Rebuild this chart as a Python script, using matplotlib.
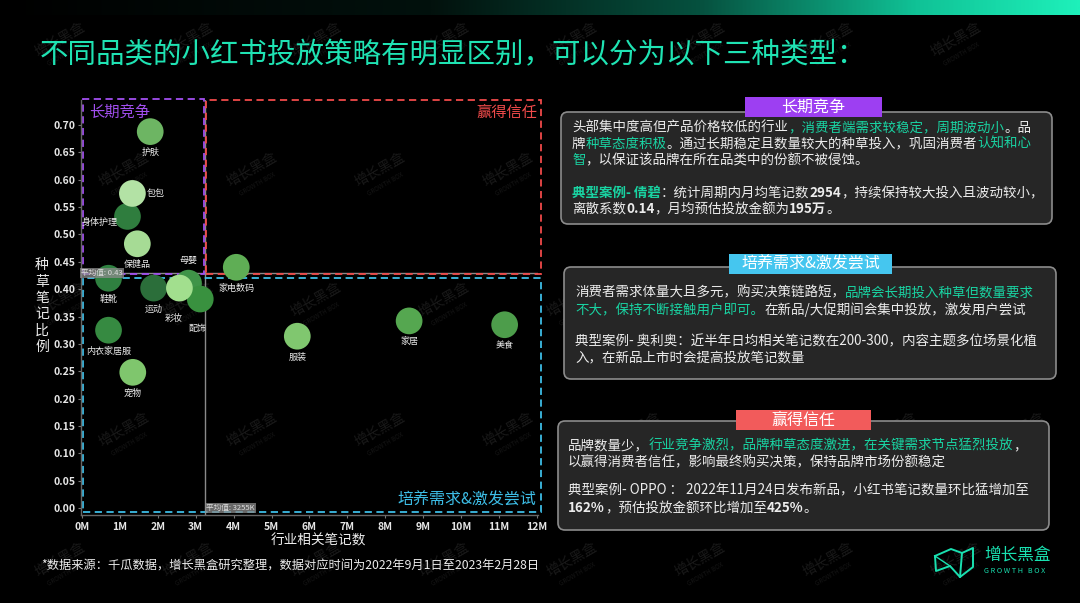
import numpy as np
import matplotlib
matplotlib.use("Agg")
import matplotlib.pyplot as plt
import matplotlib.patches as mpatches
from matplotlib.colors import LinearSegmentedColormap

plt.rcParams['font.family'] = ['Noto Sans CJK SC', 'DejaVu Sans']

# ------------------------------------
# 1. Data
# ------------------------------------
categories = ['护肤', '身体护理', '包包', '保健品', '鞋靴', '运动', '母婴', '配饰', '彩妆',
              '家电数码', '内衣家居服', '宠物', '服装', '家居', '美食']
notes_m = [1.80, 1.20, 1.33, 1.46, 0.70, 1.89, 2.81, 3.12, 2.57,
           4.07, 0.70, 1.34, 5.68, 8.63, 11.15]
grass_ratio = [0.688, 0.533, 0.575, 0.483, 0.420, 0.402, 0.411, 0.382, 0.402,
               0.440, 0.325, 0.248, 0.314, 0.342, 0.335]
bubble_colors = ['#6db563', '#2f7d3e', '#b3e2a5', '#a6db95', '#2f8040', '#2b6e3a', '#3f9448',
                 '#39913f', '#a2df8e', '#5fae55', '#368a41', '#7fc66d', '#80c76f', '#55a750',
                 '#4d9d4b']
mean_notes_m = 3.255
mean_ratio = 0.43

x_ticks = list(range(0, 13))
x_tick_labels = [f"{v}M" for v in x_ticks]
y_ticks = [round(0.05 * i, 2) for i in range(15)]

# label offsets (points) relative to bubble centre
label_offsets = {
    '护肤': (0, -15), '包包': (17, 0), '身体护理': (-20, -4), '保健品': (0, -15),
    '母婴': (0, 16), '鞋靴': (0, -15), '运动': (0, -15), '彩妆': (-4, -22),
    '配饰': (-2, -21), '家电数码': (0, -15), '内衣家居服': (0, -15), '宠物': (0, -15),
    '服装': (0, -15), '家居': (0, -15), '美食': (0, -15),
}

WHITE = '#ececec'
TEAL = '#19d3a2'
PURPLE = '#a24ff0'
RED = '#f04a4a'
CYAN = '#3dbde6'

# ------------------------------------
# 2. Figure and background layer (pixel coords)
# ------------------------------------
fig = plt.figure(figsize=(10.8, 6.03), dpi=100, facecolor='black')
bg = fig.add_axes([0, 0, 1, 1], zorder=0)
bg.set_xlim(0, 1080)
bg.set_ylim(603, 0)
bg.axis('off')
bg.set_facecolor('black')

# top gradient bar
cmap = LinearSegmentedColormap.from_list(
    'bar', [(0, '#000000'), (0.4, '#02110d'), (0.65, '#06513f'), (0.85, '#10c296'), (1, '#1ef0ba')])
grad = np.linspace(0, 1, 512).reshape(1, -1)
bg.imshow(grad, cmap=cmap, extent=[0, 1080, 15, 0], aspect='auto', zorder=1)

# faint watermarks (kept inside the frame)
for row, wy in enumerate(range(40, 590, 130)):
    for wx in range(30 + (row % 2) * 64, 1010, 128):
        bg.text(wx + 30, wy, '增长黑盒', rotation=30, color='#191919', fontsize=10,
                ha='center', va='center', zorder=0.5)
        bg.text(wx + 36, wy + 14, 'GROWTH BOX', rotation=30, color='#151515', fontsize=4.5,
                ha='center', va='center', zorder=0.5)

# title
bg.text(40, 55, '不同品类的小红书投放策略有明显区别，可以分为以下三种类型：',
        color='#1fe3b3', fontsize=20.5, ha='left', va='center', zorder=3)

# ------------------------------------
# 3. Scatter chart
# ------------------------------------
ax = fig.add_axes([80.7 / 1080, 1 - 515 / 603, (538 - 80.7) / 1080, (515 - 100) / 603], zorder=1)
ax.set_facecolor('none')
ax.set_xlim(-0.034, 12.03)
ax.set_ylim(-0.0128, 0.7458)

ax.axhline(mean_ratio, color='#8a8a8a', lw=1, zorder=1)
ax.axvline(mean_notes_m, color='#8a8a8a', lw=1, zorder=1)

ax.scatter(notes_m, grass_ratio, s=370, c=bubble_colors, edgecolors='none', zorder=3)
for name, xv, yv in zip(categories, notes_m, grass_ratio):
    dx, dy = label_offsets[name]
    ax.annotate(name, (xv, yv), xytext=(dx, dy), textcoords='offset points',
                ha='center', va='center', color=WHITE, fontsize=6.5, zorder=4)

ax.text(-0.03, mean_ratio, f'平均值: {mean_ratio:.2f}', fontsize=5.5, color='#dddddd',
        ha='left', va='center', zorder=5,
        bbox=dict(boxstyle='square,pad=0.15', fc='#8c8c8c', ec='none', alpha=0.75))
ax.text(mean_notes_m + 0.02, 0.0, f'平均值: {mean_notes_m * 1000:.0f}K', fontsize=5.5,
        color='#dddddd', ha='left', va='center', zorder=5,
        bbox=dict(boxstyle='square,pad=0.15', fc='#8c8c8c', ec='none', alpha=0.75))

# quadrant boxes
quads = [
    ((0.02, 0.428), 3.20, 0.320, PURPLE),
    ((3.27, 0.427), 8.84, 0.319, RED),
    ((0.02, -0.008), 12.09, 0.428, CYAN),
]
for (x0, y0), w, h, col in quads:
    ax.add_patch(mpatches.Rectangle((x0, y0), w, h, fill=False, ec=col, lw=1.3,
                                    ls=(0, (4, 2.5)), clip_on=False, zorder=2))

ax.set_xticks(x_ticks)
ax.set_xticklabels(x_tick_labels)
ax.set_yticks(y_ticks)
ax.set_yticklabels([f"{v:.2f}" for v in y_ticks])
ax.tick_params(colors='#777777', labelcolor='#e6e6e6', labelsize=7.5, length=2.5, width=0.8)
ax.tick_params(axis='y', pad=1.5)
ax.tick_params(axis='x', pad=2.5)
for lbl in ax.get_xticklabels() + ax.get_yticklabels():
    lbl.set_fontweight('bold')
for side in ['top', 'right']:
    ax.spines[side].set_visible(False)
for side in ['left', 'bottom']:
    ax.spines[side].set_color('#666666')
    ax.spines[side].set_linewidth(1)

bg.text(89, 112, '长期竞争', color=PURPLE, fontsize=11, ha='left', va='center', zorder=3)
bg.text(537, 112, '赢得信任', color=RED, fontsize=11, ha='right', va='center', zorder=3)
bg.text(536, 500, '培养需求&激发尝试', color=CYAN, fontsize=11.5, ha='right', va='center', zorder=3)

bg.text(42, 306, '种\n草\n笔\n记\n比\n例', color=WHITE, fontsize=10, linespacing=1.2,
        ha='center', va='center', zorder=3)
bg.text(318, 540, '行业相关笔记数', color=WHITE, fontsize=9.8, ha='center', va='center', zorder=3)

# ------------------------------------
# 4. Strategy boxes on the right
# ------------------------------------
def rich_line(x, y, segments, size=9.7):
    prev = None
    for text, color, weight in segments:
        if prev is None:
            prev = bg.text(x, y, text, color=color, fontsize=size, fontweight=weight,
                           ha='left', va='center', zorder=4)
        else:
            prev = bg.annotate(text, xy=(1, 0.5), xycoords=prev, color=color, fontsize=size,
                               fontweight=weight, ha='left', va='center', zorder=4)


def strategy_box(x0, y0, x1, y1, tab, tab_color, tab_text):
    bg.add_patch(mpatches.FancyBboxPatch((x0, y0), x1 - x0, y1 - y0,
                                         boxstyle='round,pad=0,rounding_size=7',
                                         fc='#262626', ec='#8c8c8c', lw=1.2, zorder=2))
    tx0, ty0, tx1, ty1 = tab
    bg.add_patch(mpatches.Rectangle((tx0, ty0), tx1 - tx0, ty1 - ty0, fc=tab_color,
                                    ec='none', zorder=3))
    bg.text((tx0 + tx1) / 2, (ty0 + ty1) / 2, tab_text, color='white', fontsize=11.5,
            ha='center', va='center', zorder=4)


N = 'normal'
B = 'bold'

strategy_box(561, 112, 1052, 224, (745, 97, 882, 117), '#9d3ff2', '长期竞争')
box1_lines = [
    (128, [('头部集中度高但产品价格较低的行业', WHITE, N), ('，消费者端需求较稳定，周期波动小', TEAL, N),
           ('。品', WHITE, N)]),
    (144, [('牌', WHITE, N), ('种草态度积极', TEAL, N), ('。通过长期稳定且数量较大的种草投入，巩固消费者', WHITE, N),
           ('认知和心', TEAL, N)]),
    (160, [('智', TEAL, N), ('，以保证该品牌在所在品类中的份额不被侵蚀。', WHITE, N)]),
    (193, [('典型案例- 倩碧', TEAL, B), ('：统计周期内月均笔记数', WHITE, N), ('2954', WHITE, B),
           ('，持续保持较大投入且波动较小，', WHITE, N)]),
    (209, [('离散系数', WHITE, N), ('0.14', WHITE, B), ('，月均预估投放金额为', WHITE, N),
           ('195万', WHITE, B), ('。', WHITE, N)]),
]
for yy, segs in box1_lines:
    rich_line(572, yy, segs)

strategy_box(564, 267, 1056, 379, (729, 254, 892, 274), '#45c6ef', '培养需求&激发尝试')
box2_lines = [
    (292.5, [('消费者需求体量大且多元，购买决策链路短，', WHITE, N), ('品牌会长期投入种草但数量要求', TEAL, N)]),
    (310, [('不大，保持不断接触用户即可。', TEAL, N), ('在新品/大促期间会集中投放，激发用户尝试', WHITE, N)]),
    (341, [('典型案例- 奥利奥：近半年日均相关笔记数在200-300，内容主题多位场景化植', WHITE, N)]),
    (358, [('入，在新品上市时会提高投放笔记数量', WHITE, N)]),
]
for yy, segs in box2_lines:
    rich_line(575, yy, segs)

strategy_box(558, 421, 1049, 530, (736, 410, 871, 430), '#f25b5b', '赢得信任')
box3_lines = [
    (445, [('品牌数量少，', WHITE, N), ('行业竞争激烈，品牌种草态度激进，在关键需求节点猛烈投放', TEAL, N),
           ('，', WHITE, N)]),
    (462, [('以赢得消费者信任，影响最终购买决策，保持品牌市场份额稳定', WHITE, N)]),
    (490, [('典型案例- OPPO ： 2022年11月24日发布新品，小红书笔记数量环比猛增加至', WHITE, N)]),
    (508, [('162%', WHITE, B), ('，预估投放金额环比增加至', WHITE, N), ('425%', WHITE, B), ('。', WHITE, N)]),
]
for yy, segs in box3_lines:
    rich_line(568, yy, segs)

# ------------------------------------
# 5. Footer and logo
# ------------------------------------
bg.text(41, 565, '*数据来源：千瓜数据，增长黑盒研究整理，数据对应时间为2022年9月1日至2023年2月28日',
        color=WHITE, fontsize=8.8, style='italic', ha='left', va='center', zorder=3)

logo = '#19e0b0'
icon = np.array([(935, 556), (951, 549), (962, 553), (973, 548), (973, 567),
                 (960, 577), (950, 566), (936, 571), (935, 556)])
bg.plot(icon[:, 0], icon[:, 1], color=logo, lw=1.4, zorder=3)
bg.plot([962, 960], [553, 577], color=logo, lw=1.4, zorder=3)
bg.plot([935, 950], [556, 566], color=logo, lw=1.0, zorder=3)
bg.text(984, 555, '增长黑盒', color=logo, fontsize=12, ha='left', va='center', zorder=3)
bg.text(984, 571, 'G R O W T H   B O X', color=logo, fontsize=5.2, ha='left', va='center', zorder=3)

fig.savefig('out.png', dpi=100, facecolor='black')
